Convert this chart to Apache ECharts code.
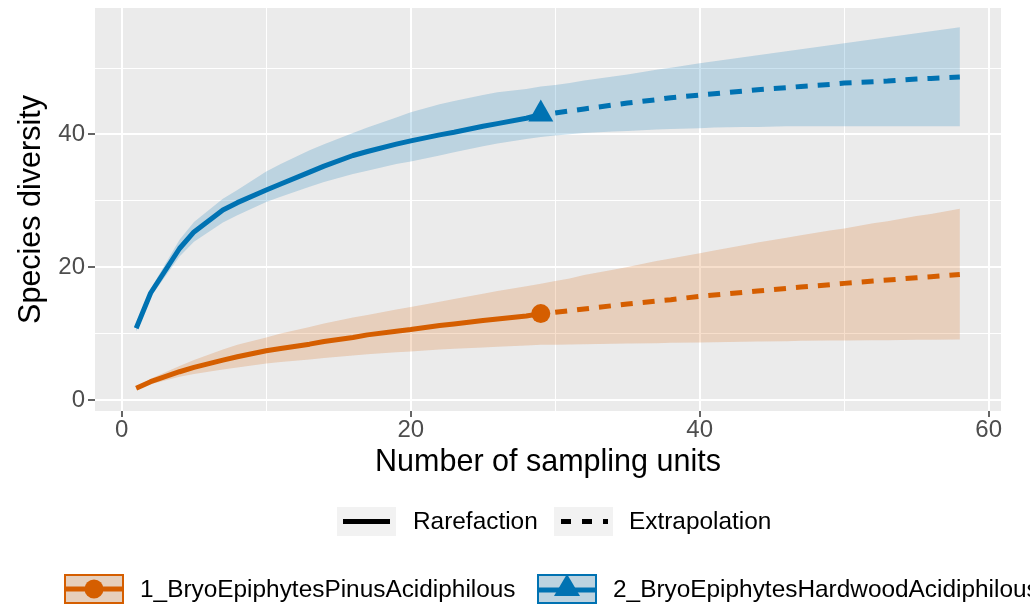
<!DOCTYPE html>
<html><head><meta charset="utf-8">
<script src="https://cdn.jsdelivr.net/npm/echarts@6/dist/echarts.min.js"></script>
<style>html,body{margin:0;padding:0;background:#fff}#c{width:1030px;height:605px}</style>
</head><body><div id="c"></div>
<script>
// ---- data ----
const xRare  = [1,2,4,5,7,8,10,11,13,14,16,17,19,20,22,23,25,26,28,29];
const xExtra = [30,31,32,34,35,37,38,40,41,43,44,46,47,49,50,52,53,55,56,58];
const xTicks = [0,20,40,60];
const yTicks = [0,20,40];
const siteNames = ['1_BryoEpiphytesPinusAcidiphilous','2_BryoEpiphytesHardwoodAcidiphilous'];
const methodNames = ['Rarefaction','Extrapolation'];

// site 1 (Pinus)
const pinusRare      = [1.75,2.75,4.25,4.9,6.0,6.5,7.4,7.75,8.4,8.8,9.4,9.8,10.35,10.6,11.2,11.45,11.95,12.2,12.65,13.0];
const pinusRareUp    = [1.95,3.2,5.1,6.0,7.6,8.3,9.4,10.0,11.0,11.5,12.4,12.8,13.6,14.0,14.8,15.2,16.0,16.4,17.1,17.5];
const pinusRareLo    = [1.55,2.35,3.5,3.9,4.6,4.9,5.5,5.7,6.1,6.3,6.7,6.9,7.2,7.3,7.6,7.7,7.9,8.0,8.2,8.3];
const pinusExtra     = [13.2,13.45,13.7,14.2,14.45,14.9,15.1,15.6,15.8,16.2,16.4,16.8,17.0,17.35,17.55,17.9,18.05,18.4,18.55,18.9];
const pinusExtraUp   = [17.9,18.3,18.8,19.6,20.0,20.9,21.3,22.1,22.5,23.3,23.7,24.4,24.8,25.5,25.8,26.6,26.9,27.7,28.0,28.8];
const pinusExtraLo   = [8.3,8.35,8.4,8.45,8.5,8.55,8.6,8.65,8.7,8.75,8.8,8.85,8.9,8.95,8.95,9.0,9.0,9.05,9.05,9.1];

// site 2 (Hardwood)
const hardRare       = [10.8,16.1,22.8,25.3,28.6,29.7,31.6,32.5,34.3,35.2,36.8,37.4,38.5,39.0,39.9,40.3,41.2,41.6,42.4,43.0];
const hardRareUp     = [11.3,16.7,24.1,26.8,30.3,31.6,34.4,35.5,37.6,38.5,40.2,41.0,42.5,43.3,44.5,45.0,45.9,46.3,46.8,47.2];
const hardRareLo     = [10.3,15.5,21.6,23.8,26.7,27.8,29.8,30.6,32.1,32.8,34.0,34.5,35.5,35.9,36.8,37.3,38.2,38.6,39.3,39.6];
const hardExtra      = [43.2,43.5,43.8,44.4,44.7,45.2,45.5,45.9,46.1,46.5,46.7,47.0,47.2,47.5,47.7,47.9,48.0,48.3,48.4,48.6];
const hardExtraUp    = [47.4,47.7,48.1,48.7,49.0,49.7,50.0,50.7,51.0,51.6,51.9,52.5,52.8,53.4,53.7,54.3,54.6,55.2,55.5,56.1];
const hardExtraLo    = [39.8,40.0,40.2,40.4,40.5,40.7,40.8,40.9,41.0,41.1,41.1,41.2,41.2,41.2,41.2,41.2,41.2,41.2,41.2,41.2];

const observedX = [29, 29];
const observedY = [13.0, 43.0];

// ---- styling ----
const FONT = '"Liberation Sans", Arial, Helvetica, sans-serif';
const ORANGE = '#D55E00', BLUE = '#0072B2';
const ORANGE_BAND = 'rgba(213,94,0,0.2)', BLUE_BAND = 'rgba(0,114,178,0.2)';
const LW = 5;

const zip = (xs, ys) => xs.map((x, i) => [x, ys[i]]);
const xAll = xRare.concat(xExtra);

function band(name, up, lo, color) {
  return {
    type: 'custom', name: name, silent: true, z: 1,
    data: [[xAll[0], up[0]]],
    renderItem: function (params, api) {
      const pts = [];
      for (let i = 0; i < xAll.length; i++) pts.push(api.coord([xAll[i], up[i]]));
      for (let i = xAll.length - 1; i >= 0; i--) pts.push(api.coord([xAll[i], lo[i]]));
      return { type: 'polygon', shape: { points: pts }, style: { fill: color } };
    }
  };
}
function line(name, xs, ys, color, dashed) {
  return {
    type: 'line', name: name, data: zip(xs, ys), symbol: 'none', z: 3,
    lineStyle: { color: color, width: LW, type: dashed ? [12, 10] : 'solid', cap: 'butt', join: 'round', opacity: 1 },
    silent: true
  };
}

const chart = echarts.init(document.getElementById('c'), null, { renderer: 'canvas' });
const axisCommon = {
  type: 'value',
  axisLine: { show: false, onZero: false },
  splitLine: { show: true, lineStyle: { color: '#FFFFFF', width: 2 } },
  minorTick: { show: false, splitNumber: 2 },
  minorSplitLine: { show: true, lineStyle: { color: '#FFFFFF', width: 1 } },
  nameLocation: 'middle',
  nameTextStyle: { fontSize: 30.5, color: '#000', fontFamily: FONT }
};

chart.setOption({
  animation: false,
  backgroundColor: '#FFFFFF',
  grid: { left: 95, right: 29, top: 8, bottom: 194, show: true, backgroundColor: '#EBEBEB', borderWidth: 0 },
  xAxis: Object.assign({}, axisCommon, {
    min: -1.85, max: 60.85, splitNumber: 3,
    axisTick: { show: true, length: 6, customValues: xTicks, lineStyle: { color: '#333333', width: 1.5 } },
    axisLabel: { customValues: xTicks, color: '#4D4D4D', fontSize: 24, margin: 7, fontFamily: FONT },
    name: 'Number of sampling units', nameGap: 33
  }),
  yAxis: Object.assign({}, axisCommon, {
    min: -1.66, max: 59.0, splitNumber: 3,
    axisTick: { show: true, length: 7, customValues: yTicks, lineStyle: { color: '#333333', width: 1.5 } },
    axisLabel: { customValues: yTicks, color: '#4D4D4D', fontSize: 24, margin: 10, fontFamily: FONT },
    name: 'Species diversity', nameGap: 44
  }),
  series: [
    band(siteNames[0] + ' band', pinusRareUp.concat(pinusExtraUp), pinusRareLo.concat(pinusExtraLo), ORANGE_BAND),
    band(siteNames[1] + ' band', hardRareUp.concat(hardExtraUp), hardRareLo.concat(hardExtraLo), BLUE_BAND),
    line(siteNames[0] + ' ' + methodNames[0], xRare, pinusRare, ORANGE, false),
    line(siteNames[0] + ' ' + methodNames[1], xExtra, pinusExtra, ORANGE, true),
    line(siteNames[1] + ' ' + methodNames[0], xRare, hardRare, BLUE, false),
    line(siteNames[1] + ' ' + methodNames[1], xExtra, hardExtra, BLUE, true),
    { type: 'scatter', name: siteNames[0] + ' observed', z: 4, silent: true,
      data: [[observedX[0], observedY[0]]], symbol: 'circle', symbolSize: 19,
      itemStyle: { color: ORANGE, opacity: 1 } },
    { type: 'scatter', name: siteNames[1] + ' observed', z: 4, silent: true,
      data: [[observedX[1], observedY[1]]], symbol: 'triangle', symbolSize: [25, 22], symbolOffset: [0, -3.7],
      itemStyle: { color: BLUE, opacity: 1 } }
  ],
  graphic: [
    // method legend
    { type: 'rect', shape: { x: 337, y: 507, width: 59, height: 29 }, style: { fill: '#F2F2F2' } },
    { type: 'line', shape: { x1: 343, y1: 521.5, x2: 390, y2: 521.5 }, style: { stroke: '#000', lineWidth: LW } },
    { type: 'text', x: 413, y: 522, style: { text: methodNames[0], fontSize: 24.4, fontFamily: FONT, fill: '#000', verticalAlign: 'middle' } },
    { type: 'rect', shape: { x: 554, y: 507, width: 59, height: 29 }, style: { fill: '#F2F2F2' } },
    { type: 'line', shape: { x1: 561, y1: 521.5, x2: 608, y2: 521.5 }, style: { stroke: '#000', lineWidth: LW, lineDash: [10, 11] } },
    { type: 'text', x: 629, y: 522, style: { text: methodNames[1], fontSize: 24.4, fontFamily: FONT, fill: '#000', verticalAlign: 'middle' } },
    // site legend
    { type: 'rect', shape: { x: 65, y: 575, width: 58, height: 28 }, style: { fill: 'rgb(230,207,188)', stroke: ORANGE, lineWidth: 2 } },
    { type: 'line', shape: { x1: 65, y1: 589, x2: 123, y2: 589 }, style: { stroke: ORANGE, lineWidth: LW } },
    { type: 'circle', shape: { cx: 94, cy: 589, r: 9.5 }, style: { fill: ORANGE } },
    { type: 'text', x: 140, y: 590, style: { text: siteNames[0], fontSize: 24.4, fontFamily: FONT, fill: '#000', verticalAlign: 'middle' } },
    { type: 'rect', shape: { x: 538, y: 575, width: 58, height: 28 }, style: { fill: 'rgb(188,211,224)', stroke: BLUE, lineWidth: 2 } },
    { type: 'line', shape: { x1: 538, y1: 590, x2: 596, y2: 590 }, style: { stroke: BLUE, lineWidth: LW } },
    { type: 'polygon', shape: { points: [[567, 574], [580, 596], [554, 596]] }, style: { fill: BLUE } },
    { type: 'text', x: 613, y: 590, style: { text: siteNames[1], fontSize: 24.4, fontFamily: FONT, fill: '#000', verticalAlign: 'middle' } }
  ]
});
</script>
</body></html>
